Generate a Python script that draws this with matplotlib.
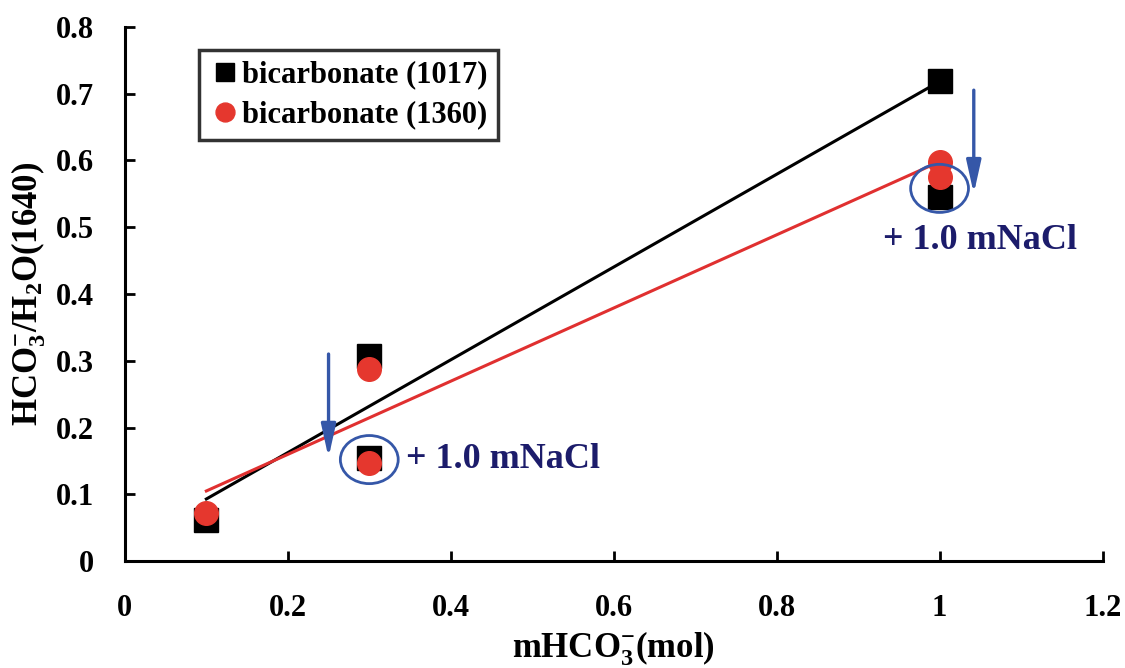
import matplotlib.pyplot as plt
from matplotlib.patches import Ellipse

# data
x_pts = [0.1, 0.3, 0.3, 1.0, 1.0]
y_1017 = [0.062, 0.307, 0.155, 0.718, 0.545]
y_1360 = [0.072, 0.288, 0.147, 0.597, 0.575]

trend_x = [0.1, 1.0]
trend_1017 = [0.093, 0.718]
trend_1360 = [0.105, 0.598]

arrow_x = [0.25, 1.042]
arrow_from = [0.31, 0.705]
arrow_to = [0.155, 0.55]
circle_centers = [(0.3, 0.152), (1.0, 0.558)]
note_pos = [(0.345, 0.152), (1.05, 0.48)]
note_text = "+ 1.0 mNaCl"

plt.rcParams['font.family'] = ['Liberation Serif', 'DejaVu Serif']
plt.rcParams['font.weight'] = 'bold'
plt.rcParams['mathtext.fontset'] = 'custom'
plt.rcParams['mathtext.rm'] = 'Liberation Serif:bold'
plt.rcParams['mathtext.bf'] = 'Liberation Serif:bold'
plt.rcParams['mathtext.default'] = 'bf'

fig = plt.figure(figsize=(11.25, 6.68), dpi=100)
ax = fig.add_axes([0.111, 0.16, 0.869, 0.80])

ax.plot(trend_x, trend_1017, color='black', lw=2.2, zorder=2)
ax.plot(trend_x, trend_1360, color='#e03030', lw=2.2, zorder=2)

ax.plot(x_pts, y_1017, 's', color='black', ms=17, ls='none',
        label='bicarbonate (1017)', zorder=3)
ax.plot(x_pts, y_1360, 'o', color='#e5372e', ms=17, ls='none',
        label='bicarbonate (1360)', zorder=4)

blue = '#3557a8'
navy = '#1c1c6b'
for ax_x, y0, y1 in zip(arrow_x, arrow_from, arrow_to):
    ax.annotate('', xy=(ax_x, y1), xytext=(ax_x, y0),
                arrowprops=dict(arrowstyle='-|>,head_length=0.9,head_width=0.2',
                                color=blue, lw=2.4,
                                mutation_scale=22, shrinkA=0, shrinkB=0))
for (cx, cy) in circle_centers:
    ax.add_patch(Ellipse((cx, cy), 0.071, 0.072, fill=False,
                         edgecolor=blue, lw=2, zorder=5))
ax.text(note_pos[0][0], note_pos[0][1], note_text, color=navy, fontsize=26,
        fontweight='bold', ha='left', va='center')
ax.text(note_pos[1][0], note_pos[1][1], note_text, color=navy, fontsize=26,
        fontweight='bold', ha='center', va='center')

ax.set_xlim(0, 1.2)
ax.set_ylim(0, 0.8)
ax.set_xticks([0, 0.2, 0.4, 0.6, 0.8, 1.0, 1.2])
ax.set_xticklabels(['0', '0.2', '0.4', '0.6', '0.8', '1', '1.2'])
ax.set_yticks([0, 0.1, 0.2, 0.3, 0.4, 0.5, 0.6, 0.7, 0.8])
ax.set_yticklabels(['0', '0.1', '0.2', '0.3', '0.4', '0.5', '0.6', '0.7', '0.8'])
ax.tick_params(direction='in', length=7, width=2, labelsize=22)
ax.tick_params(axis='x', pad=24)
ax.tick_params(axis='y', pad=22)
for lab in ax.get_xticklabels() + ax.get_yticklabels():
    lab.set_fontweight('bold')

for side in ['top', 'right']:
    ax.spines[side].set_visible(False)
for side in ['left', 'bottom']:
    ax.spines[side].set_linewidth(2.2)

ax.set_xlabel(r'mHCO$_3^{-}$(mol)', fontsize=25, fontweight='bold', labelpad=4)
ax.set_ylabel(r'HCO$_3^{-}$/H$_2$O(1640)', fontsize=25, fontweight='bold', labelpad=6)

leg = ax.legend(loc='upper left', bbox_to_anchor=(0.06, 0.985),
                frameon=True, fancybox=False, handletextpad=0.05,
                borderpad=0.35, labelspacing=0.35, handlelength=1.0,
                markerscale=0.8, prop={'weight': 'bold', 'size': 22})
leg.get_frame().set_edgecolor('black')
leg.get_frame().set_linewidth(2.5)

fig.savefig('out.png', dpi=100)
